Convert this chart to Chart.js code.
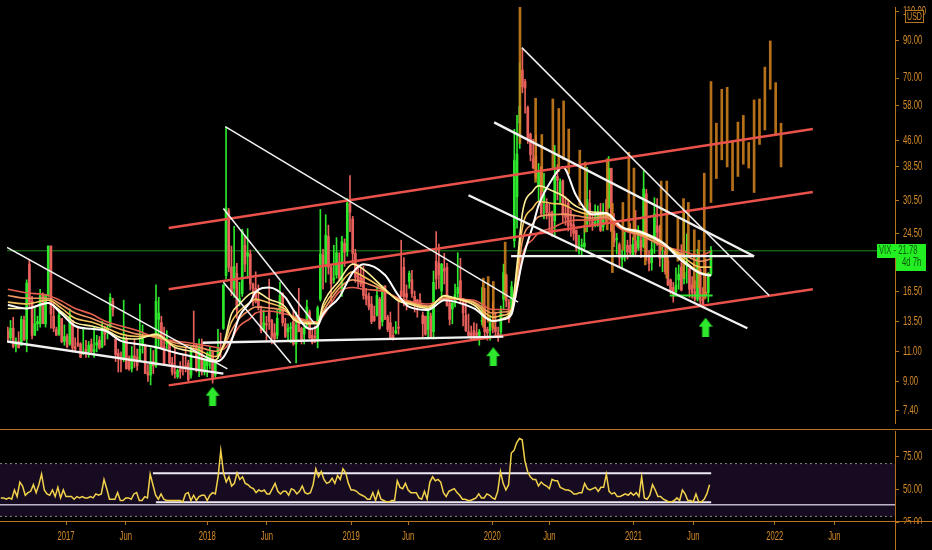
<!DOCTYPE html>
<html>
<head>
<meta charset="utf-8">
<title>VIX weekly</title>
<script src="https://cdn.jsdelivr.net/npm/chart.js@4.4.1/dist/chart.umd.min.js"></script>
<style>
  html, body { margin: 0; padding: 0; background: #000; overflow: hidden; }
  #price { position: absolute; left: 0; top: 0; }
  #rsi { position: absolute; left: 0; top: 431px; }
</style>
</head>
<body>
<canvas id="price" width="932" height="430"></canvas>
<canvas id="rsi" width="932" height="119"></canvas>
<script>
// x is the weekly bar number, bar 0 = week of 18 Jul 2016
const xTickIdx = [24, 46, 76, 98, 129, 150, 181, 202, 233, 255, 285, 307];
const xTickLabels = ['2017', 'Jun', '2018', 'Jun', '2019', 'Jun', '2020', 'Jun', '2021', 'Jun', '2022', 'Jun'];
const priceTicks = [7.4, 9, 11, 13.5, 16.5, 24.5, 30.5, 38.5, 46, 58, 70, 90, 110];
const rsiTicks = [25, 50, 75];

// weekly [open, high, low, close]
const weeklyBars = [
  // 2016
  [12.7,13.0,11.8,12.0],[12.1,13.6,11.9,12.9],[12.9,13.9,11.3,11.4],[11.5,12.1,11.0,11.6],
  [11.8,12.6,11.3,11.3],[11.5,14.0,11.5,13.7],[13.6,14.0,11.9,11.9],[12.0,17.9,11.0,17.5],
  [19.9,20.5,14.9,15.4],[15.5,16.0,12.0,12.3],[12.3,15.0,12.3,13.3],[13.3,14.0,12.7,13.5],
  [13.3,16.8,13.0,16.1],[16.2,16.4,13.3,13.3],[13.3,16.2,13.0,16.2],[16.2,22.5,16.0,22.5],
  [22.5,22.5,12.9,14.2],[14.0,15.3,12.6,12.9],[12.8,13.0,12.3,12.3],[12.4,14.5,12.3,14.1],
  [13.8,13.8,11.7,11.8],[11.8,13.2,11.5,12.2],[12.2,12.4,11.3,11.4],[11.6,14.7,11.5,14.0],
  // 2017
  [13.6,13.6,11.0,11.3],[11.4,12.1,11.0,11.2],[11.7,12.9,11.4,11.5],[11.6,11.7,10.6,10.6],[10.9,12.9,10.8,11.0],
  [11.2,11.9,10.6,10.9],[11.0,11.8,10.6,11.5],[11.6,12.0,10.8,11.0],[11.0,13.0,10.6,11.2],
  [11.5,12.3,11.0,11.7],[11.9,12.2,11.2,11.3],[11.4,13.5,11.3,12.9],[12.8,13.1,11.5,12.4],
  [12.6,13.2,12.0,12.9],[13.0,16.3,13.0,15.9],[15.5,15.8,14.0,14.6],[12.0,12.0,10.3,10.8],
  [10.9,11.2,9.6,10.6],[10.6,11.0,9.6,10.4],[10.5,15.6,10.3,12.0],[12.0,12.2,9.8,9.8],[10.5,10.7,9.7,9.8],
  [9.8,11.4,9.6,10.7],[10.7,12.0,9.9,10.4],[10.6,11.2,9.7,10.0],[10.3,15.2,10.3,11.2],
  [11.5,13.2,10.9,12.0],[11.5,11.6,9.5,9.5],[9.6,10.1,9.0,9.4],[9.4,11.3,8.8,10.3],[10.3,11.1,9.5,10.0],
  [10.0,17.3,9.9,15.5],[13.7,15.9,11.4,14.3],[13.4,14.0,11.2,11.3],[11.4,13.0,10.1,10.1],
  [11.6,12.7,11.2,12.1],[11.6,11.7,10.0,10.2],[10.2,10.6,9.4,9.6],[9.6,11.3,9.2,9.5],
  [9.3,9.8,9.2,9.7],[9.8,10.3,9.2,9.6],[9.9,10.8,9.4,9.8],[10.0,11.3,9.6,9.8],[10.2,10.4,9.0,9.1],
  [9.4,11.5,9.2,11.3],[11.5,14.5,11.1,11.4],[11.5,11.6,9.6,9.7],[9.8,12.0,9.3,11.4],
  [11.6,12.0,9.4,9.6],[9.6,10.5,9.4,10.5],[10.0,11.0,9.3,10.9],[10.3,11.4,9.8,11.0],
  // 2018
  [11.0,11.0,8.9,9.2],[9.4,10.3,9.2,10.2],[10.8,12.8,10.5,11.3],[11.3,12.5,10.6,11.1],[12.9,17.3,12.8,17.3],
  [18.4,50.3,18.0,29.1],[28.5,29.0,18.9,19.5],[19.5,22.5,16.1,16.5],[16.9,25.7,15.9,19.6],
  [18.7,20.0,13.8,14.6],[15.4,17.6,15.0,15.8],[16.3,25.2,16.0,24.9],[22.6,24.0,18.9,19.9],
  [21.0,25.3,18.1,21.5],[21.3,21.9,16.7,17.4],[17.4,17.5,15.0,16.9],[16.9,18.9,15.3,15.4],[15.6,17.3,14.6,14.8],
  [14.6,15.0,12.5,12.7],[12.8,14.6,12.6,13.4],[13.3,14.0,11.9,13.2],[14.5,18.0,12.8,13.5],
  [13.6,13.7,11.6,12.2],[12.5,13.3,11.6,12.0],[12.3,14.6,12.0,13.8],[14.3,17.6,14.2,16.1],
  [16.3,16.4,13.1,13.4],[13.3,13.8,12.1,12.2],[12.6,13.3,11.8,12.9],[12.9,13.4,11.7,13.0],[13.5,14.6,11.5,11.6],
  [11.6,14.4,10.2,13.2],[13.9,16.9,12.6,12.6],[12.9,13.0,11.6,11.9],[12.4,13.1,11.6,12.9],
  [13.6,15.6,13.0,14.9],[14.4,14.6,12.0,12.1],[12.3,12.9,11.6,11.7],[12.2,13.1,11.7,12.1],
  [12.0,15.0,11.3,14.8],[15.7,28.8,15.5,21.3],[21.2,22.0,16.8,19.9],[19.9,27.8,17.6,24.2],[24.0,25.9,18.6,19.5],
  [19.5,19.9,15.5,17.4],[17.9,22.6,17.5,18.1],[18.5,23.8,18.1,21.5],[20.1,21.5,17.8,18.1],
  [16.4,24.0,16.0,23.2],[22.9,23.6,19.6,21.6],[21.7,31.0,21.0,30.1],[30.0,36.2,24.8,28.3],[27.0,27.5,20.0,21.4],
  // 2019
  [21.4,22.0,17.6,18.2],[18.6,19.9,17.0,17.8],[18.2,19.7,17.1,17.4],[18.1,19.6,15.7,16.1],
  [16.2,16.9,15.1,15.7],[16.0,16.4,14.6,14.9],[15.2,16.0,13.3,13.5],[14.0,15.0,13.5,13.6],
  [14.1,17.0,14.0,16.1],[15.7,15.9,12.8,12.9],[13.5,17.2,13.1,16.5],[17.2,17.2,13.7,13.7],
  [13.9,14.1,12.6,12.8],[13.4,14.4,12.0,12.0],[12.3,13.0,11.9,12.1],[12.5,13.5,12.4,12.7],[13.0,15.4,12.4,12.9],
  [16.6,23.4,16.0,16.0],[19.5,20.8,15.0,16.0],[16.3,17.3,14.6,15.9],[17.7,19.0,16.9,18.7],
  [17.9,19.1,15.9,16.3],[16.0,16.6,14.4,15.3],[15.6,15.7,13.9,15.4],[15.6,16.3,14.9,15.1],
  [14.1,14.4,12.2,13.3],[14.0,14.0,12.3,12.4],[12.8,14.6,12.0,14.5],[14.0,14.3,12.1,12.2],[12.6,19.0,12.0,17.6],
  [20.3,24.8,16.8,18.0],[20.0,22.8,16.9,18.5],[16.6,20.0,15.8,19.9],[19.3,21.4,17.4,19.0],
  [19.5,20.0,15.0,15.0],[15.3,15.7,13.2,13.7],[14.7,15.4,13.3,15.3],[15.5,17.4,14.9,16.2],[16.3,21.5,15.8,17.0],
  [17.8,20.7,15.2,15.6],[15.8,15.8,13.1,14.3],[14.1,15.4,12.6,12.7],[12.6,14.2,12.2,12.3],
  [12.5,13.1,11.9,12.1],[12.7,13.4,11.9,12.05],[12.5,13.3,11.9,12.3],[12.3,12.8,11.5,12.6],
  [13.5,17.0,13.2,13.6],[14.8,16.9,12.0,12.6],[12.8,13.0,11.9,12.5],[12.7,14.1,11.9,13.4],[13.4,15.4,12.5,13.0],
  // 2020
  [13.0,14.4,12.1,12.6],[12.5,13.0,11.8,12.1],[12.6,15.0,12.2,14.6],[15.7,19.9,14.7,18.8],
  [18.5,18.6,14.9,15.5],[15.4,15.7,13.4,13.7],[14.6,17.7,14.3,17.1],[23.3,49.5,22.3,40.1],
  [31.4,54.4,25.4,41.9],[51.7,77.6,43.5,57.8],[73.9,85.5,63.4,66.0],[68.4,69.4,55.2,65.5],[57.4,58.0,45.0,46.8],
  [47.9,48.3,40.0,41.7],[40.6,46.3,37.9,38.2],[41.4,47.5,35.4,35.9],[33.6,39.3,30.5,37.2],
  [38.3,38.5,27.6,28.0],[30.3,36.8,27.0,31.9],[29.8,31.0,27.0,28.2],[28.2,29.9,24.7,27.5],
  [28.2,28.5,24.0,24.5],[26.7,44.4,24.0,36.1],[36.0,39.0,30.7,35.1],[32.3,35.4,30.0,34.7],[35.0,35.2,26.4,27.7],
  [28.0,31.4,25.9,27.3],[30.0,30.9,24.9,25.7],[26.3,28.7,24.0,25.8],[26.0,27.7,23.4,24.5],
  [25.0,25.1,21.7,22.2],[22.0,24.2,21.3,22.05],[22.5,23.6,21.0,22.5],[22.4,25.9,21.7,22.96],[26.1,38.3,24.8,30.8],
  [30.1,32.8,25.6,26.9],[26.5,28.3,25.0,25.8],[26.0,29.7,25.6,26.4],[26.4,29.5,25.7,27.6],
  [27.8,30.0,24.8,25.0],[25.6,30.0,24.9,27.4],[28.3,30.8,26.5,27.6],[29.2,41.2,29.0,38.0],
  [38.0,38.1,24.8,24.9],[24.9,28.0,22.4,23.1],[23.5,24.5,21.3,23.7],[22.7,23.0,19.5,20.8],[20.6,21.9,19.4,20.8],
  [20.9,24.7,20.3,21.2],[22.6,23.4,20.6,21.6],[22.6,26.2,21.0,21.5],[21.2,23.8,21.0,22.75],
  // 2021
  [23.3,28.6,21.1,21.6],[22.2,25.8,21.9,24.3],[23.4,24.9,20.8,21.9],[22.4,37.5,22.2,33.1],
  [32.0,33.0,20.4,20.9],[21.0,21.8,19.0,20.0],[20.1,23.3,19.1,22.05],[23.9,31.2,21.4,27.95],
  [25.8,31.0,22.6,24.7],[25.5,25.9,19.6,20.7],[20.8,22.4,18.9,20.95],[21.7,22.6,18.6,18.9],[20.4,21.0,17.2,17.3],
  [17.9,18.0,16.3,16.7],[17.0,17.6,15.4,16.25],[16.5,19.4,16.3,17.3],[17.9,19.8,16.8,18.6],
  [19.5,22.7,16.6,16.7],[18.0,28.9,17.4,18.8],[20.0,24.4,17.5,20.2],[19.3,19.3,15.9,16.8],[17.3,18.3,15.8,16.4],
  [16.5,17.8,15.5,15.7],[15.7,22.0,15.5,20.7],[19.2,19.3,15.0,15.6],[15.7,17.0,14.8,15.1],
  [16.5,20.6,15.8,16.2],[16.4,18.8,15.4,18.5],[18.6,22.4,18.4,21.78]
];

// moving-average ribbon
const ribbonIdx = [0,7,15,20,25,31,36,42,48,55,62,70,77,80,83,86,90,92,97,103,106,112,115,117,123,128,132,140,145,149,156,162,165,173,180,184,187,189,191,195,197,202,206,211,217,222,228,235,243,250,257,261];
const ribbonFast = [14.75,14.75,15.3,14.4,13.4,13.1,12.8,12.1,12.0,12.4,11.35,10.95,10.4,11.5,14.2,15.2,16.3,16.5,15.7,14.9,13.7,13.3,13.3,15.2,17.8,19.9,19.2,16.8,15.5,15.2,14.75,16.1,15.9,15.1,13.55,13.8,14.65,19.8,28.1,32.7,33.8,32.7,31.6,29.4,28.3,28.1,25.6,24.8,23.1,20.7,18.8,18.5];
const ribbonMid1 = [15.4,15.2,15.6,14.75,13.8,13.45,13.0,12.4,12.2,12.3,11.5,11.2,10.65,11.4,13.45,14.5,15.4,15.7,15.3,14.65,13.8,13.4,13.4,14.8,17.3,18.9,18.3,16.7,15.6,15.3,14.9,16.0,15.8,15.3,13.9,14.1,14.55,18.8,25.5,29.2,30.4,30.0,29.8,28.5,27.8,27.8,25.5,24.5,22.9,21.1,19.5,19.5];
const ribbonMid2 = [16.1,15.8,15.8,15.1,14.3,13.8,13.3,12.8,12.4,12.15,11.7,11.4,11.05,11.35,12.7,13.8,14.65,14.9,14.8,14.5,13.9,13.45,13.4,14.4,16.9,17.9,17.6,16.6,15.7,15.4,15.0,15.8,15.8,15.4,14.3,14.4,14.55,17.7,23.3,26.3,27.4,27.8,27.9,27.6,27.2,27.4,25.3,24.2,22.6,21.4,20.3,20.6];
const ribbonSlow = [16.8,16.4,16.1,15.5,14.75,14.2,13.55,13.1,12.7,12.1,11.85,11.6,11.35,11.2,12.0,13.1,13.8,14.3,14.5,14.2,14.0,13.55,13.45,14.0,16.5,17.0,16.8,16.5,15.8,15.5,15.2,15.7,15.7,15.6,14.65,14.65,14.65,16.7,21.1,23.6,24.6,25.4,26.3,26.8,26.8,27.1,25.1,24.1,22.5,21.8,21.1,21.7];
const whiteAvg = [15.1,14.75,15.3,14.2,13.1,12.85,12.7,11.85,11.6,11.35,10.95,10.6,10.3,10.6,11.85,14.0,15.4,16.5,17.0,15.9,14.6,12.85,13.1,14.2,15.9,18.8,19.9,18.5,16.1,14.9,14.6,15.6,15.5,14.75,13.55,13.7,14.2,17.0,20.4,26.0,29.6,35.3,38.4,31.6,27.9,28.1,25.5,24.7,23.0,20.4,18.7,18.4];

// orange bars-pattern copy [bar, low, high]
const patternBars = [
  [176.5,13.0,18.1],[178.3,13.45,18.3],[180.2,12.85,17.7],[184.6,15.9,23.1],[190.1,45,125],
  [195.9,34.6,61.1],[198.2,32.5,47.8],[202.3,37.9,60.8],[204.5,37.2,57.0],[206.3,40.3,60.0],
  [208.2,36.7,49.6],[212.3,29.6,43.0],[214.3,24.7,39.7],[222.5,25.1,40.6],[224.4,18.8,30.0],
  [228.3,21.9,30.2],[230.5,25.1,42.4],[232.4,23.4,38.1],[236.6,19.8,31.0],[242.5,21.9,34.9],
  [244.6,18.1,34.9],[248.7,20.3,27.2],[250.8,18.1,31.0],[252.6,21.1,30.2],[254.8,16.9,25.1],
  [256.5,17.0,23.4],[258.5,15.7,36.8],
  [261,30.2,68.4],[263,35.5,51.6],[265,40.3,64.9],[267,38.4,65.8],[269,32.7,45.9],[271,36.0,52.0],
  [273,39.1,54.4],[275,38.1,45.3],[277,32.3,60.4],[279,44.7,60.8],[281,49.3,75.4],[283,64.9,90.0],
  [285,47.4,67.9],[287,38.4,51.6]
];

// drawn trend lines [[bar, value], [bar, value]]
const whiteThin = [
  [[-0.3,22.3],[81.5,9.8]], [[80.7,50.4],[189.4,15.4]], [[80,29.0],[113.9,13.3]],
  [[80,17.6],[105,10.2]], [[190.8,86.0],[282.6,16.1]]
];
const whiteThick = [
  [[-0.3,11.8],[80,9.5]], [[72.3,11.7],[183.9,12.2]], [[180.5,51.9],[277,21.0]],
  [[171,31.7],[274.5,12.9]], [[186.8,21.0],[277,21.0]]
];
const greenLine = [[245.7,16.1],[261.6,16.1]];
const redChannel = [
  [[59.7,8.77],[298.8,16.8]], [[59.7,16.8],[298.8,32.4]], [[59.7,25.4],[298.8,49.6]]
];
const arrowIdx = [76, 180.2, 259];
const arrowVal = [8.15, 10.65, 13.0];

// weekly RSI
const rsiValues = [
  44,44,43,44,43,50,45,56,53,46,48,49,54,48,54,62,50,47,46,50,45,52,44,50,
  45,45,45,43,45, 44,45,44,44, 45,44,47,46, 47,58,51,43, 43,43,48,42,42, 44,44,43,47,
  48,42,42,45,44, 62,54,46,43, 47,43,42,42, 42,42,42,42,41, 47,48,42,46, 42,45,46,46,
  42,46,48,47,60, 80,63,56,60, 53,55,63,58, 60,55,54,52,51, 48,50,49,50, 47,47,51,55,
  49,47,49,49,46, 51,50,47,49, 53,48,47,48, 54,66,60,64,58, 55,56,59,55, 61,58,66,63,55,
  50,50,49,47, 46,45,43,43, 48,42,49,43, 42,41,41,42,42, 57,52,51,55, 50,48,48,48,
  44,43,49,43,56, 60,57,58,56, 48,45,49,50,51, 48,46,43,43, 42,42,43,44, 47,44,44,47,46,
  44,43,49,64, 55,50,54,78, 80,86,89,88,72, 64,60,58,58, 53,56,54,53, 51,58,57,57,52,
  51,50,50,49, 47,47,48,48,55, 51,50,51,52, 49,52,52,62, 49,47,48,45,45, 46,47,46,48,
  46,48,45,60, 44,43,46,54, 50,45,45,43,42, 41,41,42,44, 42,50,47,42,42, 41,47,41,41, 43,47,54
];
const rsiUpper = [[56,62.6],[261.6,62.6]];
const rsiLower = [[57.1,40.7],[261.6,40.7]];
const rsiBase = 38.9;

const GREEN = '#2ee82e', RED = '#e8605c', AXIS = '#b8741c', TEXT = '#d68c2a';
const FONT = "'Liberation Sans', Arial, sans-serif";
const SQUEEZE = 0.64;
const X_MIN = -0.31, X_MAX = 329.3;
const lastPrice = weeklyBars[weeklyBars.length - 1][3];

// narrow text like the TradingView axis font
function narrowText(ctx, text, x, y, size, align, color) {
  ctx.save();
  ctx.font = size + 'px ' + FONT;
  ctx.fillStyle = color;
  ctx.textBaseline = 'middle';
  ctx.textAlign = align;
  ctx.translate(x, y);
  ctx.scale(SQUEEZE, 1);
  ctx.fillText(text, 0, 0);
  ctx.restore();
}

function seg(s, color, width, order) {
  return {
    type: 'line', data: [{x: s[0][0], y: s[0][1]}, {x: s[1][0], y: s[1][1]}],
    borderColor: color, borderWidth: width, pointRadius: 0, order: order
  };
}

function arrowImage() {
  const c = document.createElement('canvas');
  c.width = 14; c.height = 19;
  const g = c.getContext('2d');
  g.fillStyle = GREEN;
  g.beginPath();
  g.moveTo(7, 0); g.lineTo(14, 9); g.lineTo(10.5, 9); g.lineTo(10.5, 19);
  g.lineTo(3.5, 19); g.lineTo(3.5, 9); g.lineTo(0, 9);
  g.closePath(); g.fill();
  return c;
}

function ribbon(values, color, width, order) {
  return {
    type: 'line', data: ribbonIdx.map((x, k) => ({x: x, y: values[k]})),
    borderColor: color, borderWidth: width, pointRadius: 0,
    cubicInterpolationMode: 'monotone', order: order
  };
}

const barColors = weeklyBars.map(b => b[3] >= b[0] ? GREEN : RED);

let priceSets = [];
priceSets.push({
  type: 'line', data: arrowIdx.map((x, k) => ({x: x, y: arrowVal[k]})),
  showLine: false, pointStyle: arrowImage(), pointRadius: 6, order: 0
});
whiteThin.forEach(s => priceSets.push(seg(s, '#f2f2f2', 1.5, 1)));
whiteThick.forEach(s => priceSets.push(seg(s, '#f2f2f2', 2.3, 1)));
priceSets.push(seg(greenLine, GREEN, 2, 1));
redChannel.forEach(s => priceSets.push(seg(s, '#e8524a', 2.5, 2)));
priceSets.push(ribbon(whiteAvg, '#ffffff', 2, 3));
priceSets.push(ribbon(ribbonFast, '#fff09a', 1.6, 4));
priceSets.push(ribbon(ribbonMid1, '#f6c45c', 1.6, 4));
priceSets.push(ribbon(ribbonMid2, '#f09462', 1.6, 4));
priceSets.push(ribbon(ribbonSlow, '#e4604e', 1.6, 4));
priceSets.push({
  type: 'bar', data: patternBars.map(p => ({x: p[0], y: [p[1], p[2]]})),
  backgroundColor: 'rgba(214,132,30,0.85)', barThickness: 2, grouped: false, order: 5
});
priceSets.push({
  type: 'bar', data: weeklyBars.map((b, i) => ({x: i, y: [b[0], b[3]]})),
  backgroundColor: barColors, barThickness: 2, minBarLength: 1, grouped: false, order: 6
});
priceSets.push({
  type: 'bar', data: weeklyBars.map((b, i) => ({x: i, y: [b[2], b[1]]})),
  backgroundColor: barColors, barThickness: 1, grouped: false, order: 7
});
priceSets.push(seg([[X_MIN, lastPrice], [X_MAX, lastPrice]], 'rgba(40,190,40,0.75)', 1, 9));

const priceDecor = {
  id: 'priceDecor',
  afterDraw(chart) {
    const ctx = chart.ctx, ys = chart.scales.y;
    ys.ticks.forEach(t => narrowText(ctx, t.value.toFixed(2), 903, ys.getPixelForValue(t.value), 12, 'left', TEXT));
    const y = Math.round(ys.getPixelForValue(lastPrice));
    ctx.save();
    ctx.strokeStyle = AXIS; ctx.lineWidth = 1;
    ctx.beginPath(); ctx.moveTo(0, 429.5); ctx.lineTo(932, 429.5); ctx.stroke();
    ctx.fillStyle = '#22ee22';
    ctx.fillRect(877, y - 7, 49, 14);
    ctx.fillRect(896, y - 7, 30, 27);
    ctx.fillStyle = '#000';
    ctx.fillRect(905, 10, 18, 12);
    ctx.strokeStyle = AXIS;
    ctx.strokeRect(905.5, 10.5, 18, 12);
    ctx.restore();
    narrowText(ctx, 'VIX - ' + lastPrice.toFixed(2), 879, y, 12, 'left', '#0c5c0c');
    narrowText(ctx, '4d 7h', 902, y + 12, 12, 'left', '#0c5c0c');
    narrowText(ctx, 'USD', 914.5, 16.5, 11, 'center', TEXT);
  }
};

new Chart(document.getElementById('price'), {
  type: 'bar',
  data: { datasets: priceSets },
  options: {
    responsive: false, animation: false, events: [],
    layout: { padding: 0 },
    plugins: { legend: { display: false }, tooltip: { enabled: false } },
    scales: {
      x: { type: 'linear', display: false, min: X_MIN, max: X_MAX, offset: false, bounds: 'data' },
      y: {
        type: 'logarithmic', position: 'right', min: 6.8, max: 113.2, bounds: 'data',
        afterBuildTicks: s => { s.ticks = priceTicks.map(v => ({value: v})); },
        afterFit: s => { s.width = 37; s.paddingTop = 0; s.paddingBottom = 0; },
        ticks: { display: false, autoSkip: false },
        grid: { drawOnChartArea: false, drawTicks: true, tickLength: 4, tickColor: AXIS },
        border: { color: AXIS }
      }
    }
  },
  plugins: [priceDecor]
});

// RSI pane
const rsiDecor = {
  id: 'rsiDecor',
  beforeDatasetsDraw(chart) {
    const ctx = chart.ctx, a = chart.chartArea, ys = chart.scales.y;
    const t = ys.getPixelForValue(70), b = ys.getPixelForValue(30);
    ctx.save();
    ctx.fillStyle = '#170b22';
    ctx.fillRect(a.left, t, a.right - a.left, b - t);
    ctx.restore();
  },
  afterDraw(chart) {
    const ctx = chart.ctx, ys = chart.scales.y, xs = chart.scales.x;
    ctx.save();
    ctx.beginPath(); ctx.rect(896, 0, 36, 93); ctx.clip();
    ys.ticks.forEach(t => narrowText(ctx, t.value.toFixed(2), 903, ys.getPixelForValue(t.value), 12, 'left', TEXT));
    ctx.restore();
    xs.ticks.forEach((t, i) => narrowText(ctx, xTickLabels[i], xs.getPixelForValue(t.value), 106, 12, 'center', TEXT));
    ctx.save();
    ctx.strokeStyle = AXIS; ctx.lineWidth = 1;
    ctx.beginPath();
    ctx.moveTo(0, 90.5); ctx.lineTo(932, 90.5);
    ctx.moveTo(895.5, 0); ctx.lineTo(895.5, 119);
    ctx.stroke();
    ctx.restore();
  }
};

function flat(v, color, width, dash) {
  return {
    data: [{x: X_MIN, y: v}, {x: X_MAX, y: v}], borderColor: color, borderWidth: width,
    borderDash: dash || [], pointRadius: 0
  };
}

new Chart(document.getElementById('rsi'), {
  type: 'line',
  data: {
    datasets: [
      { data: rsiValues.map((v, i) => ({x: i, y: v})), borderColor: '#f2d24a', borderWidth: 1.5, pointRadius: 0, order: 0 },
      { data: rsiUpper.map(p => ({x: p[0], y: p[1]})), borderColor: '#ece8f4', borderWidth: 2, pointRadius: 0, order: 1 },
      { data: rsiLower.map(p => ({x: p[0], y: p[1]})), borderColor: '#ece8f4', borderWidth: 2, pointRadius: 0, order: 1 },
      Object.assign(flat(rsiBase, '#bdb5cc', 1.5), { order: 2 }),
      Object.assign(flat(70, '#8a8a8a', 1, [2, 3]), { order: 3 }),
      Object.assign(flat(30, '#8a8a8a', 1, [2, 3]), { order: 3 })
    ]
  },
  options: {
    responsive: false, animation: false, events: [],
    layout: { padding: 0 },
    plugins: { legend: { display: false }, tooltip: { enabled: false } },
    scales: {
      x: {
        type: 'linear', min: X_MIN, max: X_MAX, bounds: 'data', offset: false,
        afterBuildTicks: s => { s.ticks = xTickIdx.map(v => ({value: v})); },
        afterFit: s => { s.height = 29; s.paddingLeft = 0; s.paddingRight = 0; },
        ticks: { display: false, autoSkip: false, maxRotation: 0 },
        grid: { drawOnChartArea: false, drawTicks: true, tickLength: 4, tickColor: AXIS },
        border: { color: AXIS }
      },
      y: {
        type: 'linear', position: 'right', min: 26.5, max: 94.7, bounds: 'data',
        afterBuildTicks: s => { s.ticks = rsiTicks.map(v => ({value: v})); },
        afterFit: s => { s.width = 37; s.paddingTop = 0; s.paddingBottom = 0; },
        ticks: { display: false, autoSkip: false },
        grid: { drawOnChartArea: false, drawTicks: true, tickLength: 4, tickColor: AXIS },
        border: { color: AXIS }
      }
    }
  },
  plugins: [rsiDecor]
});
</script>
</body>
</html>
